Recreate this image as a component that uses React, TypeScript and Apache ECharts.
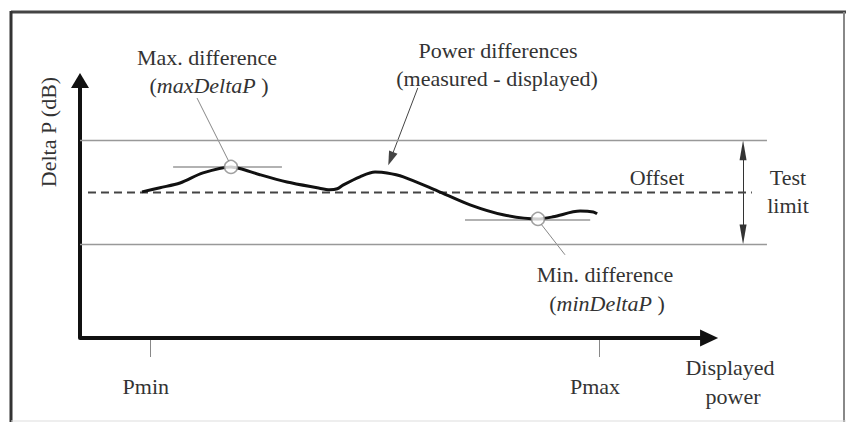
import React, { useEffect, useRef } from "react";
import * as echarts from "echarts";

// Measured power difference curve (x: displayed power, 0..100 ; y: Delta P in dB, offset = 0)
const curveX = [9.86, 12.72, 15.9, 19.55, 24.0, 25.4, 28.6, 32.9, 37.7, 39.7, 40.9, 41.8, 44.5, 46.9, 48.8, 51.4, 56.8, 62.0, 67.25, 72.8, 75.2, 79.5, 81.6, 82.2];
const curveY = [0.01, 0.09, 0.18, 0.375, 0.49, 0.46, 0.34, 0.2, 0.09, 0.05, 0.07, 0.14, 0.3, 0.39, 0.375, 0.3, 0.03, -0.24, -0.43, -0.51, -0.47, -0.36, -0.375, -0.41];

// Test limits and offset
const upperLimit = 1;
const lowerLimit = -1;
const offsetValue = 0;
const limitRange = [0, 109.2];
const offsetRange = [1.27, 106.8];

// Extremes
const maxPoint = [24.0, 0.49];
const minPoint = [72.8, -0.51];
const maxLineRange = [14.8, 32.1];
const minLineRange = [61.2, 81.1];
const maxLineY = 0.49;
const minLineY = -0.53;

// Annotation leader lines
const maxLeader = [[18.6, 1.815], [23.7, 0.585]];
const minLeader = [[73.3, -0.61], [77.1, -1.2]];
const powerLeader = [[53.7, 2.01], [49.4, 0.65]];
const testLimitX = 105.4;
const testLimitArrowEnds = [0.81, -0.81];

// Axes
const xAxisEnd = 100;
const yAxisMin = -2.8;
const tickValues = [11.1, 82.5];
const tickLabels = ["Pmin", "Pmax"];

const FONT = "Liberation Serif";
const TEXT_COLOR = "#333";

function txt(text: string, x: number, y: number, extra: any = {}) {
  return {
    type: "text",
    x,
    y,
    ...extra,
    style: {
      text,
      fill: TEXT_COLOR,
      fontFamily: FONT,
      fontSize: 22,
      align: "center",
      verticalAlign: "middle",
    },
  };
}

function richTxt(italic: string, x: number, y: number) {
  return {
    type: "text",
    x,
    y,
    style: {
      text: "{n|(}{i|" + italic + "}{n| )}",
      fill: TEXT_COLOR,
      fontFamily: FONT,
      fontSize: 22,
      align: "center",
      verticalAlign: "middle",
      rich: {
        n: { fontFamily: FONT, fontSize: 22, fill: TEXT_COLOR },
        i: { fontFamily: FONT, fontSize: 22, fontStyle: "italic", fill: TEXT_COLOR },
      },
    },
  };
}

export default function App() {
  const ref = useRef<HTMLDivElement>(null);

  useEffect(() => {
    if (!ref.current) return;
    const chart = echarts.init(ref.current, undefined, { renderer: "svg" });

    const curve = curveX.map((x, i) => [x, curveY[i]]);
    const hLine = (range: number[], y: number) => [[range[0], y], [range[1], y]];

    const option: any = {
      animation: false,
      backgroundColor: "#fff",
      textStyle: { fontFamily: FONT },
      grid: { left: 80, right: 75, top: 78, bottom: 84, outerBoundsMode: "none" },
      xAxis: {
        type: "value",
        min: 0,
        max: 110,
        splitLine: { show: false },
        axisLine: { show: false, onZero: false },
        axisTick: {
          show: true,
          customValues: tickValues,
          length: 19,
          lineStyle: { color: "#888", width: 1 },
        },
        axisLabel: {
          show: true,
          customValues: tickValues,
          formatter: (v: number) => {
            const i = tickValues.findIndex((t) => Math.abs(t - v) < 1e-6);
            return i >= 0 ? tickLabels[i] : "";
          },
          margin: 37,
          fontSize: 22,
          fontFamily: FONT,
          color: TEXT_COLOR,
          padding: [0, 8, 0, 0],
        },
      },
      yAxis: {
        type: "value",
        min: yAxisMin,
        max: 2.2,
        splitLine: { show: false },
        axisLabel: { show: false },
        axisTick: { show: false },
        axisLine: {
          show: true,
          onZero: false,
          symbol: ["none", "triangle"],
          symbolSize: [18, 15],
          symbolOffset: [0, -2.5],
          lineStyle: { color: "#111", width: 4 },
        },
      },
      series: [
        {
          type: "line",
          data: hLine(limitRange, upperLimit),
          showSymbol: false,
          clip: false,
          lineStyle: { color: "#999", width: 1.5 },
        },
        {
          type: "line",
          data: hLine(limitRange, lowerLimit),
          showSymbol: false,
          clip: false,
          lineStyle: { color: "#999", width: 1.5 },
        },
        {
          type: "line",
          data: hLine(offsetRange, offsetValue),
          showSymbol: false,
          clip: false,
          lineStyle: { color: "#444", width: 2, type: [8, 5] },
        },
        {
          type: "line",
          data: hLine(maxLineRange, maxLineY),
          showSymbol: false,
          lineStyle: { color: "#999", width: 1.5 },
        },
        {
          type: "line",
          data: hLine(minLineRange, minLineY),
          showSymbol: false,
          lineStyle: { color: "#999", width: 1.5 },
        },
        {
          type: "line",
          data: curve,
          smooth: 0.3,
          showSymbol: false,
          lineStyle: { color: "#111", width: 3 },
          z: 3,
        },
        // x axis with arrow head
        {
          type: "lines",
          coordinateSystem: "cartesian2d",
          clip: false,
          symbol: ["none", "triangle"],
          symbolSize: [0, [17, 18]],
          lineStyle: { color: "#111", width: 4, opacity: 1 },
          data: [{ coords: [[0, yAxisMin], [xAxisEnd, yAxisMin]] }],
          z: 4,
        },
        {
          type: "lines",
          coordinateSystem: "cartesian2d",
          clip: false,
          symbol: ["none", "none"],
          lineStyle: { color: "#888", width: 1, opacity: 1 },
          data: [{ coords: maxLeader }, { coords: minLeader }],
        },
        {
          type: "lines",
          coordinateSystem: "cartesian2d",
          clip: false,
          symbol: ["none", "triangle"],
          symbolSize: [0, [9, 14]],
          lineStyle: { color: "#444", width: 1, opacity: 1 },
          data: [{ coords: powerLeader }],
        },
        {
          type: "lines",
          coordinateSystem: "cartesian2d",
          clip: false,
          symbol: ["none", "triangle"],
          symbolSize: [0, [7, 20]],
          lineStyle: { color: "#333", width: 1, opacity: 1 },
          data: testLimitArrowEnds.map((y) => ({ coords: [[testLimitX, offsetValue], [testLimitX, y]] })),
        },
        {
          type: "scatter",
          data: [maxPoint, minPoint],
          symbol: "circle",
          symbolSize: 13,
          itemStyle: { color: "#fff", borderColor: "#888", borderWidth: 1.5 },
          z: 5,
        },
      ],
      graphic: [
        { type: "line", shape: { x1: 11, y1: 12, x2: 846, y2: 12 }, style: { stroke: "#444", lineWidth: 3 } },
        { type: "line", shape: { x1: 11, y1: 11, x2: 11, y2: 422 }, style: { stroke: "#333", lineWidth: 3 } },
        { type: "line", shape: { x1: 844, y1: 12, x2: 844, y2: 422 }, style: { stroke: "#888", lineWidth: 2 } },
        { type: "line", shape: { x1: 11, y1: 421, x2: 846, y2: 421 }, style: { stroke: "#ddd", lineWidth: 1 } },
        txt("Max. difference", 207, 57),
        richTxt("maxDeltaP", 209, 85),
        txt("Power differences", 498, 50),
        txt("(measured - displayed)", 497, 78),
        txt("Offset", 657, 177),
        txt("Test", 788, 177),
        txt("limit", 788, 205),
        txt("Min. difference", 605, 274),
        richTxt("minDeltaP", 607, 303),
        txt("Displayed", 730, 367),
        txt("power", 733, 396),
        txt("Delta P (dB)", 48, 132, { rotation: Math.PI / 2 }),
      ],
    };

    chart.setOption(option);
    return () => chart.dispose();
  }, []);

  return (
    <div
      ref={ref}
      style={{ position: "absolute", left: 0, top: 0, width: 847, height: 422 }}
    />
  );
}
